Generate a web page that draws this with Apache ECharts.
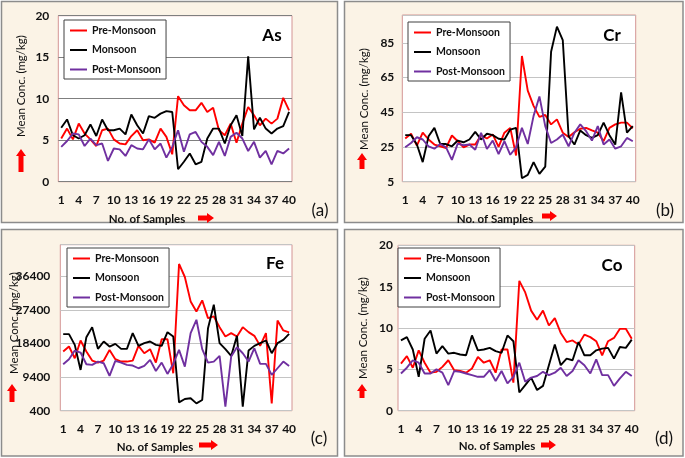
<!DOCTYPE html>
<html>
<head>
<meta charset="utf-8">
<script src="https://cdn.jsdelivr.net/npm/echarts@6/dist/echarts.min.js"></script>
<style>html,body{margin:0;padding:0;background:#fff;}#c{width:685px;height:458px;}</style>
</head>
<body>
<div id="c"></div>
<script>
const samples = ['1','2','3','4','5','6','7','8','9','10','11','12','13','14','15','16','17','18','19','20',
  '21','22','23','24','25','26','27','28','29','30','31','32','33','34','35','36','37','38','39','40'];
const seriesNames = ['Pre-Monsoon', 'Monsoon', 'Post-Monsoon'];

// As (mg/kg)
const asPre  = [5.2,6.4,5.1,7.0,5.8,5.1,4.3,6.2,6.4,5.1,4.6,4.5,5.5,6.2,5.0,5.1,4.7,6.4,5.4,3.3,
                10.3,9.2,8.6,8.6,9.5,8.4,8.9,6.2,5.6,7.0,4.7,7.0,9.0,8.0,6.8,7.6,7.0,7.6,10.1,8.6];
const asMon  = [6.5,7.5,5.6,5.2,5.6,6.9,5.5,7.5,6.2,6.2,6.4,5.7,8.1,6.8,5.8,7.9,7.7,8.2,8.5,8.4,
                1.5,2.4,3.4,2.1,2.4,5.2,6.4,6.4,4.6,6.8,8.0,5.5,15.1,6.3,7.7,6.4,5.8,6.4,6.7,8.4];
const asPost = [4.2,4.9,5.8,5.7,4.3,5.2,4.4,4.6,2.5,4.0,3.9,3.1,4.4,4.0,3.9,5.1,3.9,4.6,2.9,4.2,
                6.2,3.6,5.7,6.0,4.8,4.2,3.2,4.8,3.1,5.4,5.9,5.2,3.7,4.8,2.9,3.7,2.1,3.7,3.4,4.0];
// Cr (mg/kg)
const crPre  = [29.9,32.6,25.8,33.2,29.3,26.4,25.4,24.4,31.6,28.3,24.8,26.4,26.4,31.8,29.9,32.2,25.0,33.2,36.0,20.1,
                77.4,57.4,48.7,42.3,43.4,38.0,40.9,33.2,30.8,33.5,35.5,36.0,34.5,33.2,28.3,36.0,38.0,39.0,39.0,35.7];
const crMon  = [31.8,31.8,26.4,16.3,31.2,36.0,26.7,26.7,25.4,28.7,27.7,29.3,33.7,29.3,32.6,31.8,29.7,29.3,35.0,36.0,
                7.0,8.9,16.3,9.5,13.7,79.8,94.3,86.6,31.2,26.4,34.5,31.8,30.2,31.8,39.0,31.8,26.4,56.5,33.2,37.0];
const crPost = [24.8,27.3,30.6,29.3,25.4,24.0,26.7,24.8,17.6,26.9,26.0,26.4,23.4,33.2,23.8,28.7,20.9,28.3,20.5,24.8,
                36.0,26.7,42.9,54.1,37.0,27.3,29.3,32.2,25.4,33.2,38.0,34.1,28.7,37.0,26.4,29.3,24.0,25.4,30.2,28.3];
// Fe (mg/kg)
const fePre  = [16260,17600,14470,19220,16260,13840,13300,13840,16700,14200,13570,13570,13840,17780,15810,16890,13300,19570,19570,10440,
                39730,36240,29700,27010,29970,25220,25670,22800,20290,21190,20290,22800,21460,20470,17780,21190,2370,24590,21910,21370];
const feMon  = [20920,20920,18050,11330,20110,22800,16980,18950,17600,18320,16980,16980,21190,17780,18500,18950,18050,17780,21460,20290,
                2640,3540,3720,2370,3270,22530,28800,18500,16890,15090,20470,1480,16530,17780,18500,19220,15810,18500,19390,21010];
const fePost = [12850,14200,16530,15990,12850,12670,13570,13120,9720,13750,13300,12670,12500,11780,12410,14020,11060,13300,10260,12940,
                16700,12230,21190,24770,16890,13300,13570,15090,1480,14920,17420,15810,13570,17150,12940,12940,9990,11780,13570,12410];
// Co (mg/kg)
const coPre  = [5.7,6.6,5.2,7.3,5.8,4.6,4.7,5.3,6.1,4.9,4.8,4.6,5.1,6.5,5.8,6.1,4.6,7.4,7.4,3.4,
                15.7,14.3,12.1,11.0,12.1,10.3,11.2,9.4,8.3,8.5,8.0,9.2,8.9,8.4,6.7,8.4,8.8,9.9,9.9,8.7];
const coMon  = [8.5,8.9,7.4,4.1,8.7,9.7,6.9,7.8,6.9,7.0,6.8,6.7,9.1,7.3,7.4,7.6,7.2,7.0,9.1,8.4,
                2.2,3.1,4.0,2.5,3.0,5.5,8.0,5.5,6.3,6.1,8.3,6.7,6.7,7.3,7.5,7.6,6.3,7.7,7.6,8.6];
const coPost = [4.5,5.2,6.1,5.8,4.5,4.5,5.0,4.6,3.1,4.8,4.7,4.5,4.3,4.1,4.1,4.9,3.6,4.8,3.3,4.1,
                5.8,3.5,4.0,4.2,4.7,4.3,4.6,5.2,4.2,4.8,6.1,5.5,4.5,6.2,4.3,4.3,3.0,3.9,4.7,4.2];

// y-axis tick labels
const asTicks = [0, 5, 10, 15, 20];
const crTicks = [5, 25, 45, 65, 85];
const feTicks = [400, 9400, 18400, 27400, 36400];
const coTicks = [0, 5, 10, 15, 20];

const FONT = 'Lato, "Liberation Sans", sans-serif';
const colors = ['#FF0000', '#000000', '#7030A0'];

const panels = [
  { title: 'As', tag: '(a)', data: [asPre, asMon, asPost], ticks: asTicks, max: 20, showMax: true,
    grid: { left: 58.3, top: 15.7, width: 233.7, height: 166 }, split: '#7f7f7f', labelMargin: 9,
    legend: { left: 64, top: 20 }, titlePos: [272, 36], tagPos: [320, 211],
    yName: [21, 86], xName: [147, 219], upArrow: [21, 149, 172], rightArrow: [198, 214, 218] },
  { title: 'Cr', tag: '(b)', data: [crPre, crMon, crPost], ticks: crTicks, max: 101, showMax: false,
    grid: { left: 402.3, top: 15, width: 233.4, height: 166.7 }, split: '#c4c4c4', labelMargin: 8,
    legend: { left: 408, top: 22 }, titlePos: [612, 36], tagPos: [665, 211],
    yName: [364, 99], xName: [495, 219], upArrow: [362, 153, 169], rightArrow: [542, 557, 216] },
  { title: 'Fe', tag: '(c)', data: [fePre, feMon, fePost], ticks: feTicks, max: 44900, showMax: false,
    grid: { left: 60.3, top: 244.7, width: 231.7, height: 166 }, split: '#c4c4c4', labelMargin: 10,
    legend: { left: 67, top: 248 }, titlePos: [275, 264], tagPos: [319, 439],
    yName: [14, 323], xName: [155, 447], upArrow: [12, 384, 402], rightArrow: [199, 218, 445] },
  { title: 'Co', tag: '(d)', data: [coPre, coMon, coPost], ticks: coTicks, max: 20, showMax: true,
    grid: { left: 398, top: 245.3, width: 236.7, height: 165.4 }, split: '#c4c4c4', labelMargin: 5,
    legend: { left: 398, top: 248 }, titlePos: [612, 266], tagPos: [664, 439],
    yName: [363, 328], xName: [497, 446], upArrow: [362, 384, 398], rightArrow: [541, 556, 445] }
];

const boxes = [
  { x: 1.5, y: 1.5, width: 336, height: 221 },
  { x: 344.5, y: 1.5, width: 338.5, height: 221 },
  { x: 1.5, y: 229.5, width: 336, height: 226.5 },
  { x: 344.5, y: 229.5, width: 338.5, height: 226.5 }
];

function rightArrowPts(x0, x1, yc) {
  const h = 7;
  return [[x0, yc - 2.5], [x1 - h, yc - 2.5], [x1 - h, yc - 5], [x1, yc], [x1 - h, yc + 5], [x1 - h, yc + 2.5], [x0, yc + 2.5]];
}
function upArrowPts(xc, y0, y1) {
  const h = 7;
  return [[xc - 2.5, y1], [xc - 2.5, y0 + h], [xc - 5, y0 + h], [xc, y0], [xc + 5, y0 + h], [xc + 2.5, y0 + h], [xc + 2.5, y1]];
}

const grids = [], xAxes = [], yAxes = [], legends = [], series = [], graphic = [];

boxes.forEach(b => graphic.push({
  type: 'rect', z: -10, silent: true, shape: b,
  style: { fill: '#FBF3E6', stroke: '#8c8c8c', lineWidth: 1.5 }
}));

panels.forEach((p, i) => {
  grids.push(Object.assign({ show: true, backgroundColor: '#ffffff', borderColor: '#D49494', borderWidth: 1, containLabel: false }, p.grid));
  xAxes.push({
    type: 'category', gridIndex: i, data: samples, boundaryGap: true,
    axisLine: { show: false }, axisTick: { show: false }, splitLine: { show: false },
    axisLabel: { interval: 2, margin: 12, color: '#111', fontWeight: 'bold', fontSize: 12, fontFamily: FONT }
  });
  yAxes.push({
    type: 'value', gridIndex: i, min: p.ticks[0], max: p.max, interval: p.ticks[1] - p.ticks[0],
    axisLine: { show: false }, axisTick: { show: false },
    splitLine: { show: true, lineStyle: { color: p.split, width: 1 } },
    axisLabel: { showMaxLabel: p.showMax, margin: p.labelMargin, color: '#111', fontWeight: 'bold', fontSize: 12, fontFamily: FONT,
      formatter: v => String(v) }
  });
  legends.push({
    left: p.legend.left, top: p.legend.top, orient: 'vertical',
    data: seriesNames, icon: 'rect', itemWidth: 17, itemHeight: 2, itemGap: 6.5,
    backgroundColor: '#ffffff', borderColor: '#404040', borderWidth: 1, borderRadius: 0,
    padding: [4, 5, 3, 6], selectedMode: false,
    textStyle: { fontFamily: FONT, fontWeight: 'bold', fontSize: 10.5, lineHeight: 13, color: '#111' }
  });
  p.data.forEach((d, k) => series.push({
    name: seriesNames[k], type: 'line', xAxisIndex: i, yAxisIndex: i, data: d,
    symbol: 'none', showSymbol: false, silent: true, animation: false,
    itemStyle: { color: colors[k] },
    lineStyle: { color: colors[k], width: 1.9 }
  }));
  graphic.push({ type: 'text', z: 50, x: p.titlePos[0], y: p.titlePos[1],
    style: { text: p.title, fill: '#000', font: 'bold 17px ' + FONT, textAlign: 'center', textVerticalAlign: 'middle' } });
  graphic.push({ type: 'text', z: 50, x: p.tagPos[0], y: p.tagPos[1],
    style: { text: p.tag, fill: '#111', font: '17px ' + FONT, textAlign: 'center', textVerticalAlign: 'middle' } });
  graphic.push({ type: 'text', z: 50, x: p.yName[0], y: p.yName[1], rotation: Math.PI / 2,
    style: { text: 'Mean Conc. (mg/kg)', fill: '#111', font: '11.5px ' + FONT, textAlign: 'center', textVerticalAlign: 'middle' } });
  graphic.push({ type: 'text', z: 50, x: p.xName[0], y: p.xName[1],
    style: { text: 'No. of Samples', fill: '#111', font: 'bold 11.5px ' + FONT, textAlign: 'center', textVerticalAlign: 'middle' } });
  graphic.push({ type: 'polygon', z: 50, silent: true,
    shape: { points: upArrowPts(p.upArrow[0], p.upArrow[1], p.upArrow[2]) }, style: { fill: '#FF0000' } });
  graphic.push({ type: 'polygon', z: 50, silent: true,
    shape: { points: rightArrowPts(p.rightArrow[0], p.rightArrow[1], p.rightArrow[2]) }, style: { fill: '#FF0000' } });
});

const chart = echarts.init(document.getElementById('c'), null, { renderer: 'canvas', width: 685, height: 458 });
chart.setOption({
  backgroundColor: '#ffffff',
  animation: false,
  grid: grids, xAxis: xAxes, yAxis: yAxes, legend: legends, series: series, graphic: graphic
});
</script>
</body>
</html>
